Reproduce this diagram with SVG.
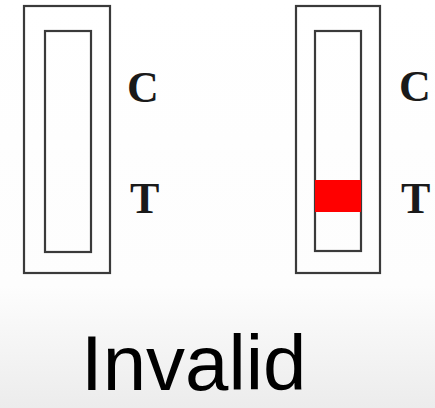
<svg xmlns="http://www.w3.org/2000/svg" width="435" height="408" viewBox="0 0 435 408">
<style>
.strip{fill:none;stroke:#3a3a3a;stroke-width:2.2}
.lbl{font-family:"Liberation Serif",serif;font-weight:bold;font-size:44px;fill:#1a1a1a}
.title{font-family:"Liberation Sans",Arial,sans-serif;font-size:78px;fill:#000}
</style>
<defs>
<linearGradient id="bg" x1="0" y1="0" x2="0" y2="1">
<stop offset="0" stop-color="#ffffff"/>
<stop offset="0.7" stop-color="#fdfdfd"/>
<stop offset="1" stop-color="#ececec"/>
</linearGradient>
</defs>
<rect width="435" height="408" fill="url(#bg)"/>
<g id="strip-left">
<rect class="strip" x="24" y="6" width="86" height="267"/>
<rect class="strip" x="45" y="31" width="46" height="221"/>
<text class="lbl" x="127" y="102">C</text>
<text class="lbl" x="130" y="213">T</text>
</g>
<g id="strip-right">
<rect class="strip" x="296" y="6" width="84" height="267"/>
<rect class="strip" x="315" y="31" width="46" height="220"/>
<rect x="315" y="180" width="46" height="32" fill="#ff0000"/>
<text class="lbl" x="399" y="101">C</text>
<text class="lbl" x="401" y="213">T</text>
</g>
<text id="title" class="title" x="81" y="390">Invalid</text>
</svg>
